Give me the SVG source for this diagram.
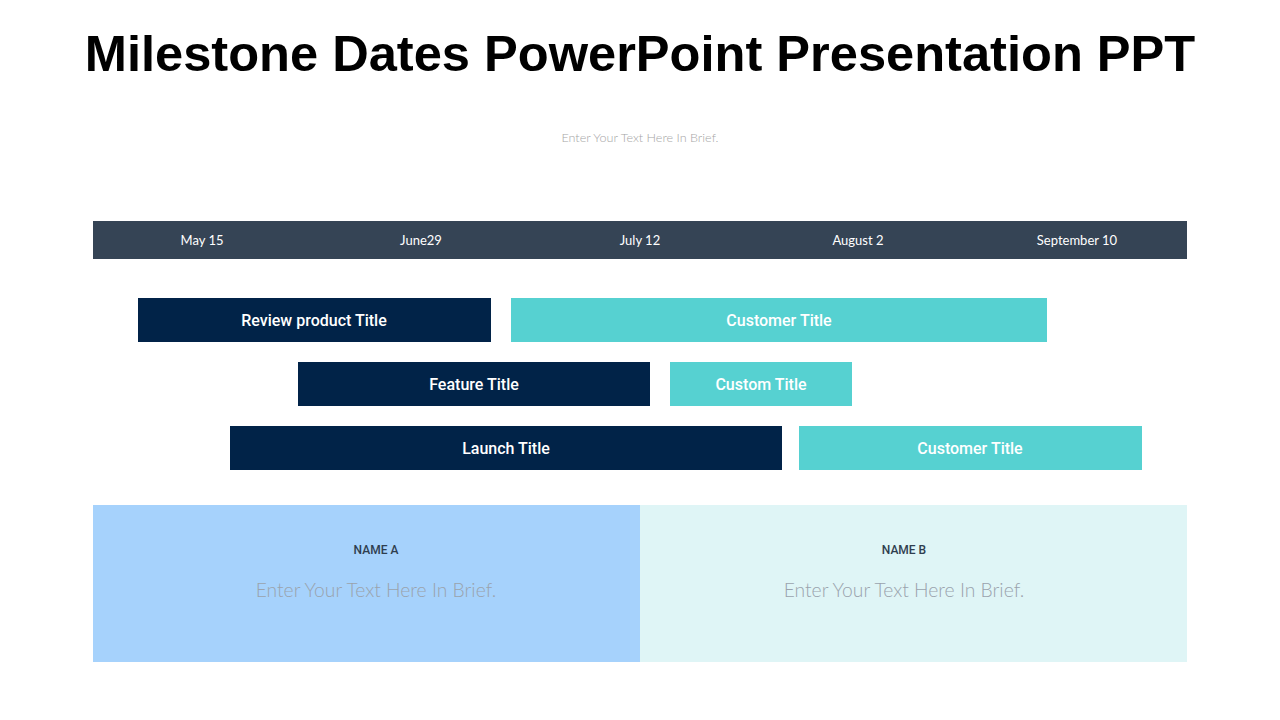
<svg xmlns="http://www.w3.org/2000/svg" width="1280" height="720" viewBox="0 0 1280 720">
<style>
.title{font-family:"Liberation Sans",Arial,sans-serif;font-weight:bold;font-size:50.6px;fill:#000}
.date{font-family:Lato,"Noto Sans",sans-serif;font-size:13px;fill:#fff}
.btn{font-family:Roboto,"Noto Sans",sans-serif;font-weight:500;font-size:16px;fill:#fff}
.navy{fill:#012348}
.teal{fill:#56d1d1}
.name{font-family:Roboto,"Noto Sans",sans-serif;font-weight:500;font-size:12px;fill:#2f3e4f}
.body{font-family:Lato,"Noto Sans",sans-serif;font-weight:300;font-size:19.3px;fill:#9aa3ad}
.sub{font-family:Lato,"Noto Sans",sans-serif;font-weight:300;font-size:12.6px;fill:#a6a6a6}
</style>
<rect width="1280" height="720" fill="#fff"/>
<text class="title" x="640" y="71" text-anchor="middle">Milestone Dates PowerPoint Presentation PPT</text>
<text class="sub" x="640" y="142" text-anchor="middle">Enter Your Text Here In Brief.</text>
<g id="timeline">
<rect x="93" y="221" width="1094" height="38" fill="#354455"/>
<text class="date" x="202" y="245" text-anchor="middle">May 15</text>
<text class="date" x="421" y="245" text-anchor="middle">June29</text>
<text class="date" x="640" y="245" text-anchor="middle">July 12</text>
<text class="date" x="858" y="245" text-anchor="middle">August 2</text>
<text class="date" x="1077" y="245" text-anchor="middle">September 10</text>
</g>
<g id="review"><rect class="navy" x="138" y="298" width="353" height="44"/><text class="btn" x="314" y="326" text-anchor="middle">Review product Title</text></g>
<g id="customer1"><rect class="teal" x="511" y="298" width="536" height="44"/><text class="btn" x="779" y="326" text-anchor="middle">Customer Title</text></g>
<g id="feature"><rect class="navy" x="298" y="362" width="352" height="44"/><text class="btn" x="474" y="390" text-anchor="middle">Feature Title</text></g>
<g id="custom"><rect class="teal" x="670" y="362" width="182" height="44"/><text class="btn" x="761" y="390" text-anchor="middle">Custom Title</text></g>
<g id="launch"><rect class="navy" x="230" y="426" width="552" height="44"/><text class="btn" x="506" y="454" text-anchor="middle">Launch Title</text></g>
<g id="customer2"><rect class="teal" x="799" y="426" width="343" height="44"/><text class="btn" x="970" y="454" text-anchor="middle">Customer Title</text></g>
<g id="nameA"><rect x="93" y="505" width="547" height="157" fill="#a6d2fc"/><text class="name" x="376" y="554" text-anchor="middle">NAME A</text><text class="body" x="376" y="597" text-anchor="middle">Enter Your Text Here In Brief.</text></g>
<g id="nameB"><rect x="640" y="505" width="547" height="157" fill="#dff5f6"/><text class="name" x="904" y="554" text-anchor="middle">NAME B</text><text class="body" x="904" y="597" text-anchor="middle">Enter Your Text Here In Brief.</text></g>
<g id="connectors"/>
</svg>
